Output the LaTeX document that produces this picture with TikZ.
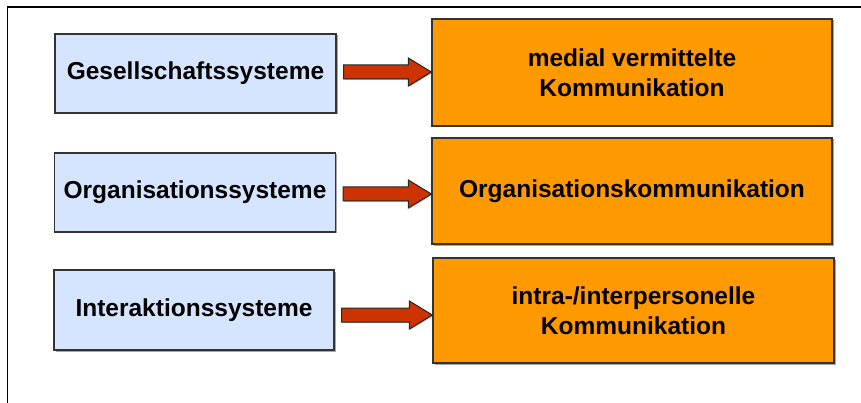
\documentclass[tikz,border=0pt]{standalone}
\usepackage{fontspec}
\setmainfont{Liberation Sans}
\usetikzlibrary{calc,shadows}
\definecolor{sysblue}{HTML}{D5E5FF}
\definecolor{komorange}{HTML}{FF9900}
\definecolor{arrred}{HTML}{CC3300}
\definecolor{edgegray}{HTML}{333333}
\newcommand\fatarrow[3]{%
  \draw[arrowshape]
    ($(#1.east |- 0,#3)+(7,-7)$) -- ($(#2.west |- 0,#3)+(-23,-7)$)
    -- ($(#2.west |- 0,#3)+(-23,-14)$) -- (#2.west |- 0,#3)
    -- ($(#2.west |- 0,#3)+(-23,14)$) -- ($(#2.west |- 0,#3)+(-23,7)$)
    -- ($(#1.east |- 0,#3)+(7,7)$) -- cycle;}
\begin{document}
\begin{tikzpicture}[x=1pt,y=-1pt,
  boxtext/.style={font=\bfseries\fontsize{24.5}{30}\selectfont, align=center, inner sep=0pt, text=black},
  boxshadow/.style={drop shadow={shadow xshift=1.5pt, shadow yshift=-1.5pt, fill=black, opacity=0.35}},
  sysbox/.style={boxtext, boxshadow, draw=edgegray, line width=1.3pt, fill=sysblue},
  kombox/.style={boxtext, boxshadow, draw=edgegray, line width=1.3pt, fill=komorange},
  arrowshape/.style={draw=black!85, line width=1pt, fill=arrred, line join=miter,
    drop shadow={shadow xshift=1pt, shadow yshift=-1pt, fill=black, opacity=0.25}},
  frameline/.style={draw=black, line width=1.5pt}
]
\useasboundingbox (0,0) rectangle (861,403);
\fill[white] (0,0) rectangle (861,403);
\draw[frameline] (7.5,403) -- (7.5,7) -- (861,7);

\node[sysbox, minimum width=281, minimum height=79] (b1) at (195.5,73.5) {Gesellschaftssysteme};
\node[sysbox, minimum width=281, minimum height=79] (b2) at (195,192.5) {Organisationssysteme};
\node[sysbox, minimum width=280, minimum height=80] (b3) at (194,310) {Interaktionssysteme};

\node[kombox, minimum width=400, minimum height=107] (o1) at (632,72.5) {medial vermittelte\\Kommunikation};
\node[kombox, minimum width=400, minimum height=106] (o2) at (632,191) {Organisationskommunikation};
\node[kombox, minimum width=401, minimum height=105] (o3) at (633.5,310.5) {intra-/interpersonelle\\Kommunikation};

\fatarrow{b1}{o1}{72}
\fatarrow{b2}{o2}{194}
\fatarrow{b3}{o3}{315}
\end{tikzpicture}
\end{document}
